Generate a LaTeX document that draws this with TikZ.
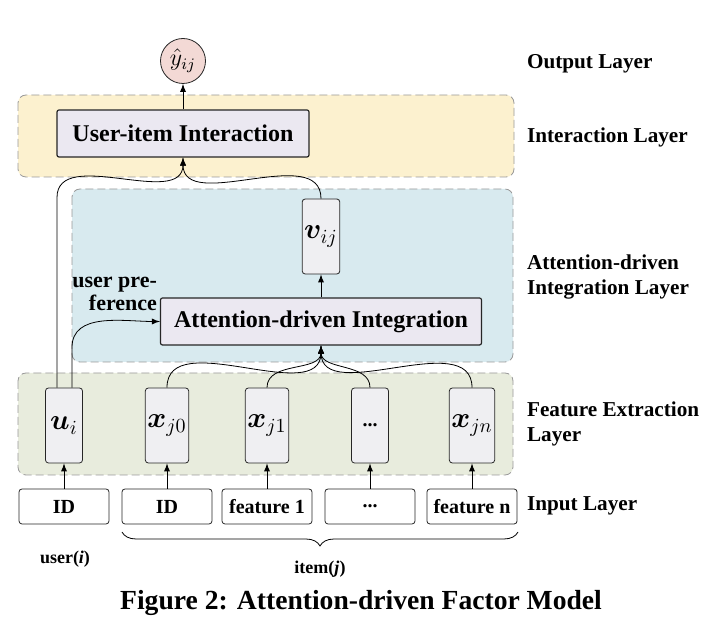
\documentclass[tikz,border=0pt]{standalone}
\usepackage{fontspec}
\setmainfont{Liberation Serif}
\usepackage{amsmath}
\usepackage{bm}
\usetikzlibrary{arrows, shapes, positioning, decorations.pathreplacing}

\definecolor{interfill}{HTML}{FCF1CF}
\definecolor{attfill}{HTML}{D8EAEF}
\definecolor{featfill}{HTML}{E8ECDD}
\definecolor{blockfill}{HTML}{EBE8F1}
\definecolor{vecfill}{HTML}{EFEFF2}
\definecolor{outfill}{HTML}{F3D9D5}

\begin{document}
\begin{tikzpicture}[x=0.5pt, y=-0.5pt, node distance = 40.5pt, >=latex, font=\bfseries]
\tikzstyle{layer}=[draw=gray!80, dash pattern=on 4pt off 2pt, rounded corners=4pt]
\tikzstyle{blockbox}=[rectangle, draw=black!85, fill=blockfill, semithick, rounded corners=1pt, minimum height=23.5pt, font=\fontsize{12}{14}\selectfont\bfseries]
\tikzstyle{vecbox}=[rectangle, draw=black!85, fill=vecfill, rounded corners=1.5pt, minimum width=18.5pt, minimum height=37.5pt, inner sep=1pt, font=\Large\bfseries]
\tikzstyle{inbox}=[rectangle, draw=black!85, fill=white, rounded corners=1.5pt, minimum width=45pt, minimum height=17.5pt]
\tikzstyle{outcirc}=[circle, draw=black!85, fill=outfill, minimum size=22.5pt, inner sep=0pt, font=\large]
\tikzstyle{layerlab}=[anchor=west, align=left, font=\fontsize{10.6}{12.5}\selectfont\bfseries]
%
\useasboundingbox (0,0) rectangle (724,625);
% layers
\filldraw [layer, fill=interfill] (18,95) rectangle (514,177);
\filldraw [layer, fill=attfill] (72,189) rectangle (513,362);
\filldraw [layer, fill=featfill] (18,373) rectangle (513,475);
%
\node [outcirc] (yhat) at (183,61) {$\hat{y}_{ij}$};
\node [blockbox, minimum width=126pt] (inter) at (183,133.5) {User-item Interaction}
	edge [->] (yhat);
\node [vecbox] (vij) at (321,236.5) {$\bm{v}_{ij}$};
\node [blockbox, minimum width=160.5pt] (att) at (321,321.5) {Attention-driven Integration}
	edge [->] (vij);
\node [align=right, anchor=east, font=\fontsize{11}{11.5}\selectfont\bfseries] (pref) at (164,294) {user pre-\\ference};
%
\node [vecbox] (ui) at (64,425.5) {$\bm{u}_i$};
\node [vecbox] (xj0) at (167,425.5) {$\bm{x}_{j0}$};
\node [vecbox] (xj1) at (267,425.5) {$\bm{x}_{j1}$};
\node [vecbox, font=\bfseries] (xjd) at (370,425.5) {...};
\node [vecbox] (xjn) at (472,425.5) {$\bm{x}_{jn}$};
%
\node [inbox] (idu) [below of=ui] {ID}
	edge [->] (ui);
\node [inbox] (idj) [below of=xj0] {ID}
	edge [->] (xj0);
\node [inbox] (feat1) [below of=xj1] {feature 1}
	edge [->] (xj1);
\node [inbox] (featd) [below of=xjd] {...}
	edge [->] (xjd);
\node [inbox] (featn) [below of=xjn] {feature n}
	edge [->] (xjn);
%
\draw [->] (xj0.north) to [out=90, in=-90] (att.south);
\draw [->] (xj1.north) to [out=90, in=-90] (att.south);
\draw [->] (xjd.north) to [out=90, in=-90] (att.south);
\draw [->] (xjn.north) to [out=90, in=-90] (att.south);
\draw [->] (vij.north) to [out=90, in=-90] (inter.south);
\draw [->] ([xshift=-3.5pt]ui.north) -- ++(0,-190) to [out=90, in=-90] (inter.south);
\draw [->] ([xshift=4pt]ui.north) -- ++(0,-40) to [out=90, in=180] (att.west);
%
\coordinate (brl) at (122,532);
\coordinate (brr) at (518,532);
\draw [decorate, decoration={brace, mirror, amplitude=7pt}] (brl) -- (brr);
\node [font=\small\bfseries] (user) at (65,559) {user(\textit{i})};
\node [font=\small\bfseries] (item) at (320,569) {item(\textit{j})};
\node [font=\fontsize{13.8}{16}\selectfont\bfseries] (cap) at (361,603) {Figure 2: Attention-driven Factor Model};
%
\node [layerlab] (l1) at (520,64) {Output Layer};
\node [layerlab] (l2) at (520,137) {Interaction Layer};
\node [layerlab] (l3) at (520,277) {Attention-driven\\Integration Layer};
\node [layerlab] (l4) at (520,424) {Feature Extraction\\Layer};
\node [layerlab] (l5) at (520,506) {Input Layer};
\end{tikzpicture}
\end{document}
